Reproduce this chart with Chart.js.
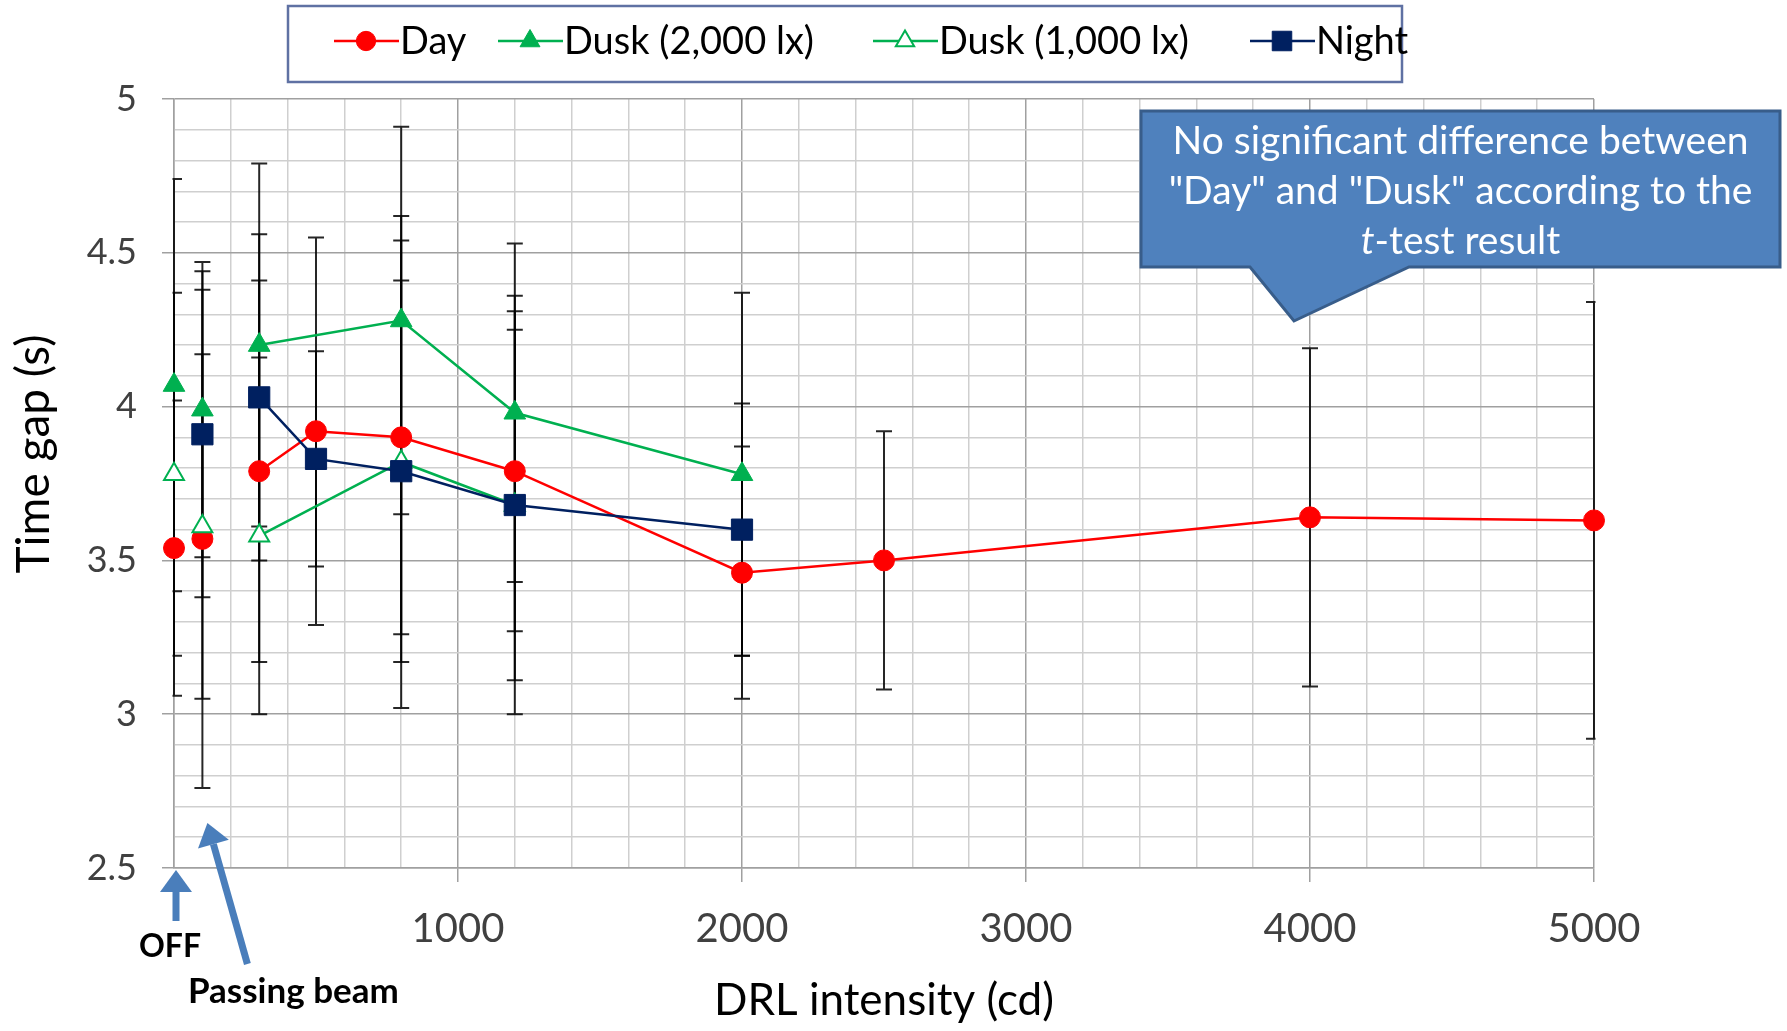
<!DOCTYPE html>
<html>
<head>
<meta charset="utf-8">
<script src="https://cdn.jsdelivr.net/npm/chart.js@4.4.1/dist/chart.umd.min.js"></script>
<style>
  html, body { margin: 0; padding: 0; background: #fff; }
  #wrap { position: relative; width: 1787px; height: 1031px; }
</style>
</head>
<body>
<div id="wrap"><canvas id="c"></canvas></div>
<script>
// DRL intensity (cd) per condition; 0 = DRL off, 100 = passing beam
const dayIntensity = [0, 100, 300, 500, 800, 1200, 2000, 2500, 4000, 5000];
const dayGap       = [3.54, 3.57, 3.79, 3.92, 3.90, 3.79, 3.46, 3.50, 3.64, 3.63];
const dayErr       = [0.48, 0.81, 0.62, 0.63, 0.64, 0.52, 0.41, 0.42, 0.55, 0.71];

const dusk2000Intensity = [0, 100, 300, 800, 1200, 2000];
const dusk2000Gap       = [4.07, 3.99, 4.20, 4.28, 3.98, 3.78];
const dusk2000Err       = [0.67, 0.48, 0.59, 0.63, 0.55, 0.59];

const dusk1000Intensity = [0, 100, 300, 800, 1200];
const dusk1000Gap       = [3.78, 3.61, 3.58, 3.82, 3.68];
const dusk1000Err       = [0.59, 0.56, 0.58, 0.80, 0.68];

const nightIntensity = [100, 300, 500, 800, 1200, 2000];
const nightGap       = [3.91, 4.03, 3.83, 3.79, 3.68, 3.60];
const nightErr       = [0.53, 0.53, 0.35, 0.62, 0.57, 0.41];

const seriesNames = ['Day', 'Dusk (2,000 lx)', 'Dusk (1,000 lx)', 'Night'];
const xTickLabels = [1000, 2000, 3000, 4000, 5000];
const yTickLabels = [2.5, 3, 3.5, 4, 4.5, 5];
const yAxisTitle = 'Time gap (s)';
const xAxisTitle = 'DRL intensity (cd)';
const calloutLines = ['No significant difference between', '"Day" and "Dusk" according to the', '-test result'];

// lowest DRL setting; OFF and passing beam are not joined to the DRL curve
const firstDrlIntensity = 300;

const FONT = 'Lato, "Open Sans", sans-serif';
Chart.defaults.font.family = FONT;

const RED = '#FF0000', GREEN = '#00B050', NAVY = '#002060';

function toPoints(xs, ys) { return xs.map((x, i) => ({ x: x, y: ys[i] })); }
function drlSegments(color) {
  return { borderColor: ctx => ctx.p0.parsed.x < firstDrlIntensity ? 'rgba(0,0,0,0)' : color };
}
const isMajorY = v => yTickLabels.some(t => Math.abs(t - v) < 1e-6);
const isMajorX = v => v % 1000 === 0;

const markerStyles = [
  { pointStyle: 'circle',   radius: 10.5, fill: RED,   stroke: RED,   width: 1, line: RED },
  { pointStyle: 'triangle', radius: 12.5, fill: GREEN, stroke: GREEN, width: 1, line: GREEN },
  { pointStyle: 'triangle', radius: 11.5, fill: '#fff', stroke: GREEN, width: 2, line: GREEN },
  { pointStyle: 'rect',     radius: 15,   fill: NAVY, stroke: NAVY,  width: 1, line: NAVY }
];

function makeDataset(i, xs, ys, errs, order) {
  const m = markerStyles[i];
  return {
    label: seriesNames[i],
    data: toPoints(xs, ys),
    errors: errs,
    borderColor: m.line,
    backgroundColor: m.fill,
    borderWidth: 2.5,
    pointStyle: m.pointStyle,
    pointRadius: m.radius,
    pointHoverRadius: m.radius,
    pointBackgroundColor: m.fill,
    pointBorderColor: m.stroke,
    pointBorderWidth: m.width,
    segment: drlSegments(m.line),
    tension: 0,
    clip: false,
    order: order
  };
}

// vertical error bars (± SD) under the markers
const errorBars = {
  id: 'errorBars',
  beforeDatasetsDraw(chart) {
    const { ctx, chartArea: a, scales: { x, y } } = chart;
    ctx.save();
    ctx.beginPath();
    ctx.rect(a.left - 1.5, a.top, a.right - a.left + 3, a.bottom - a.top);
    ctx.clip();
    ctx.strokeStyle = 'rgba(0,0,0,0.85)';
    ctx.lineWidth = 2;
    chart.data.datasets.forEach(ds => {
      ds.data.forEach((p, i) => {
        const e = ds.errors[i];
        const px = x.getPixelForValue(p.x);
        const yt = y.getPixelForValue(p.y + e);
        const yb = y.getPixelForValue(p.y - e);
        ctx.beginPath();
        ctx.moveTo(px, yt); ctx.lineTo(px, yb);
        ctx.moveTo(px - 8, yt); ctx.lineTo(px + 8, yt);
        ctx.moveTo(px - 8, yb); ctx.lineTo(px + 8, yb);
        ctx.stroke();
      });
    });
    ctx.restore();
  }
};

function drawArrow(ctx, tx, ty, hx, hy, color) {
  // tail (tx,ty) -> head tip (hx,hy)
  const ang = Math.atan2(hy - ty, hx - tx);
  const headL = 22, headW = 16, shaft = 7;
  const bx = hx - headL * Math.cos(ang), by = hy - headL * Math.sin(ang);
  ctx.save();
  ctx.strokeStyle = color; ctx.fillStyle = color;
  ctx.lineWidth = shaft; ctx.lineCap = 'butt';
  ctx.beginPath(); ctx.moveTo(tx, ty); ctx.lineTo(bx, by); ctx.stroke();
  const nx = -Math.sin(ang), ny = Math.cos(ang);
  ctx.beginPath();
  ctx.moveTo(hx, hy);
  ctx.lineTo(bx + nx * headW, by + ny * headW);
  ctx.lineTo(bx - nx * headW, by - ny * headW);
  ctx.closePath(); ctx.fill();
  ctx.restore();
}

const annotations = {
  id: 'annotations',
  afterDraw(chart) {
    const { ctx, scales: { x, y } } = chart;
    ctx.save();

    // y-axis title
    ctx.save();
    ctx.translate(34, 454);
    ctx.rotate(-Math.PI / 2);
    ctx.fillStyle = '#000';
    ctx.font = '46px ' + FONT;
    ctx.textAlign = 'center';
    ctx.textBaseline = 'middle';
    ctx.fillText(yAxisTitle, 0, 0);
    ctx.restore();

    // legend box
    ctx.fillStyle = '#fff';
    ctx.fillRect(288, 6, 1114, 76);
    ctx.strokeStyle = '#5F71A3';
    ctx.lineWidth = 2.5;
    ctx.strokeRect(288, 6, 1114, 76);
    const itemX = [334, 498, 873, 1250];
    const ly = 41;
    ctx.font = '38px ' + FONT;
    ctx.textBaseline = 'middle';
    ctx.textAlign = 'left';
    markerStyles.forEach((m, i) => {
      const x0 = itemX[i];
      ctx.strokeStyle = m.line; ctx.lineWidth = 2.5;
      ctx.beginPath(); ctx.moveTo(x0, ly); ctx.lineTo(x0 + 65, ly); ctx.stroke();
      ctx.fillStyle = m.fill; ctx.strokeStyle = m.stroke; ctx.lineWidth = m.width;
      Chart.helpers.drawPoint(ctx, { pointStyle: m.pointStyle, radius: m.radius * 0.92, rotation: 0, borderWidth: m.width }, x0 + 32, ly);
      ctx.fillStyle = '#000';
      ctx.fillText(seriesNames[i], x0 + 66, ly + 1);
    });

    // callout
    const L = 1141, T = 111, R = 1780, B = 267;
    ctx.beginPath();
    ctx.moveTo(L, T); ctx.lineTo(R, T); ctx.lineTo(R, B);
    ctx.lineTo(1409, B); ctx.lineTo(1294, 321); ctx.lineTo(1250, B);
    ctx.lineTo(L, B); ctx.closePath();
    ctx.fillStyle = '#4F81BD'; ctx.fill();
    ctx.strokeStyle = '#385D8A'; ctx.lineWidth = 3; ctx.stroke();
    const cx = (L + R) / 2;
    const fs = '39px ';
    ctx.fillStyle = '#fff';
    ctx.font = fs + FONT;
    ctx.textAlign = 'center';
    ctx.fillText(calloutLines[0], cx, 141);
    ctx.fillText(calloutLines[1], cx, 191);
    ctx.font = 'italic ' + fs + FONT;
    const wt = ctx.measureText('t').width;
    ctx.font = fs + FONT;
    const wr = ctx.measureText(calloutLines[2]).width;
    const sx = cx - (wt + wr) / 2;
    ctx.textAlign = 'left';
    ctx.font = 'italic ' + fs + FONT;
    ctx.fillText('t', sx, 241);
    ctx.font = fs + FONT;
    ctx.fillText(calloutLines[2], sx + wt, 241);

    // OFF / passing-beam pointers
    const x0 = x.getPixelForValue(0), xp = x.getPixelForValue(100), yb = y.getPixelForValue(2.5);
    const BLUE = '#4A7EBB';
    drawArrow(ctx, x0 + 2, yb + 53, x0 + 2, yb + 2, BLUE);
    drawArrow(ctx, xp + 45, yb + 96, xp + 5, yb - 45, BLUE);
    ctx.fillStyle = '#000';
    ctx.textAlign = 'center';
    ctx.font = 'bold 32px ' + FONT;
    ctx.fillText('OFF', x0 - 4, yb + 79);
    ctx.font = 'bold 35px ' + FONT;
    ctx.fillText('Passing beam', xp + 91, yb + 124);

    ctx.restore();
  }
};

new Chart(document.getElementById('c'), {
  type: 'line',
  data: {
    datasets: [
      makeDataset(0, dayIntensity, dayGap, dayErr, 4),
      makeDataset(1, dusk2000Intensity, dusk2000Gap, dusk2000Err, 3),
      makeDataset(2, dusk1000Intensity, dusk1000Gap, dusk1000Err, 2),
      makeDataset(3, nightIntensity, nightGap, nightErr, 1)
    ]
  },
  options: {
    responsive: true,
    maintainAspectRatio: false,
    animation: false,
    layout: { padding: { top: 99, right: 193, left: 0, bottom: 0 } },
    plugins: { legend: { display: false }, tooltip: { enabled: false } },
    scales: {
      x: {
        type: 'linear', min: 0, max: 5000,
        afterFit(s) { s.height = 163; },
        ticks: {
          stepSize: 200, autoSkip: false, maxRotation: 0, minRotation: 0,
          padding: 23, color: '#404040', font: { size: 40 },
          callback: v => xTickLabels.includes(v) ? String(v) : ''
        },
        grid: {
          color: c => isMajorX(c.tick.value) ? '#A0A0A0' : '#CFCFCF',
          tickColor: c => (isMajorX(c.tick.value) && c.tick.value > 0) ? '#A0A0A0' : 'rgba(0,0,0,0)',
          lineWidth: 1.5, tickLength: 14
        },
        border: { display: true, color: '#A0A0A0', width: 1.5 },
        title: { display: true, text: xAxisTitle, color: '#000', font: { size: 44 }, padding: { top: 0, bottom: 4 } }
      },
      y: {
        type: 'linear', min: 2.5, max: 5,
        afterFit(s) { s.width = 174; },
        ticks: {
          stepSize: 0.1, autoSkip: false, padding: 25, color: '#404040', font: { size: 36 },
          callback: v => { const t = yTickLabels.find(t => Math.abs(t - v) < 1e-6); return t === undefined ? '' : String(t); }
        },
        grid: {
          color: c => isMajorY(c.tick.value) ? '#A0A0A0' : '#CFCFCF',
          tickColor: c => isMajorY(c.tick.value) ? '#A0A0A0' : 'rgba(0,0,0,0)',
          lineWidth: 1.5, tickLength: 12
        },
        border: { display: true, color: '#A0A0A0', width: 1.5 }
      }
    }
  },
  plugins: [errorBars, annotations]
});
</script>
</body>
</html>
